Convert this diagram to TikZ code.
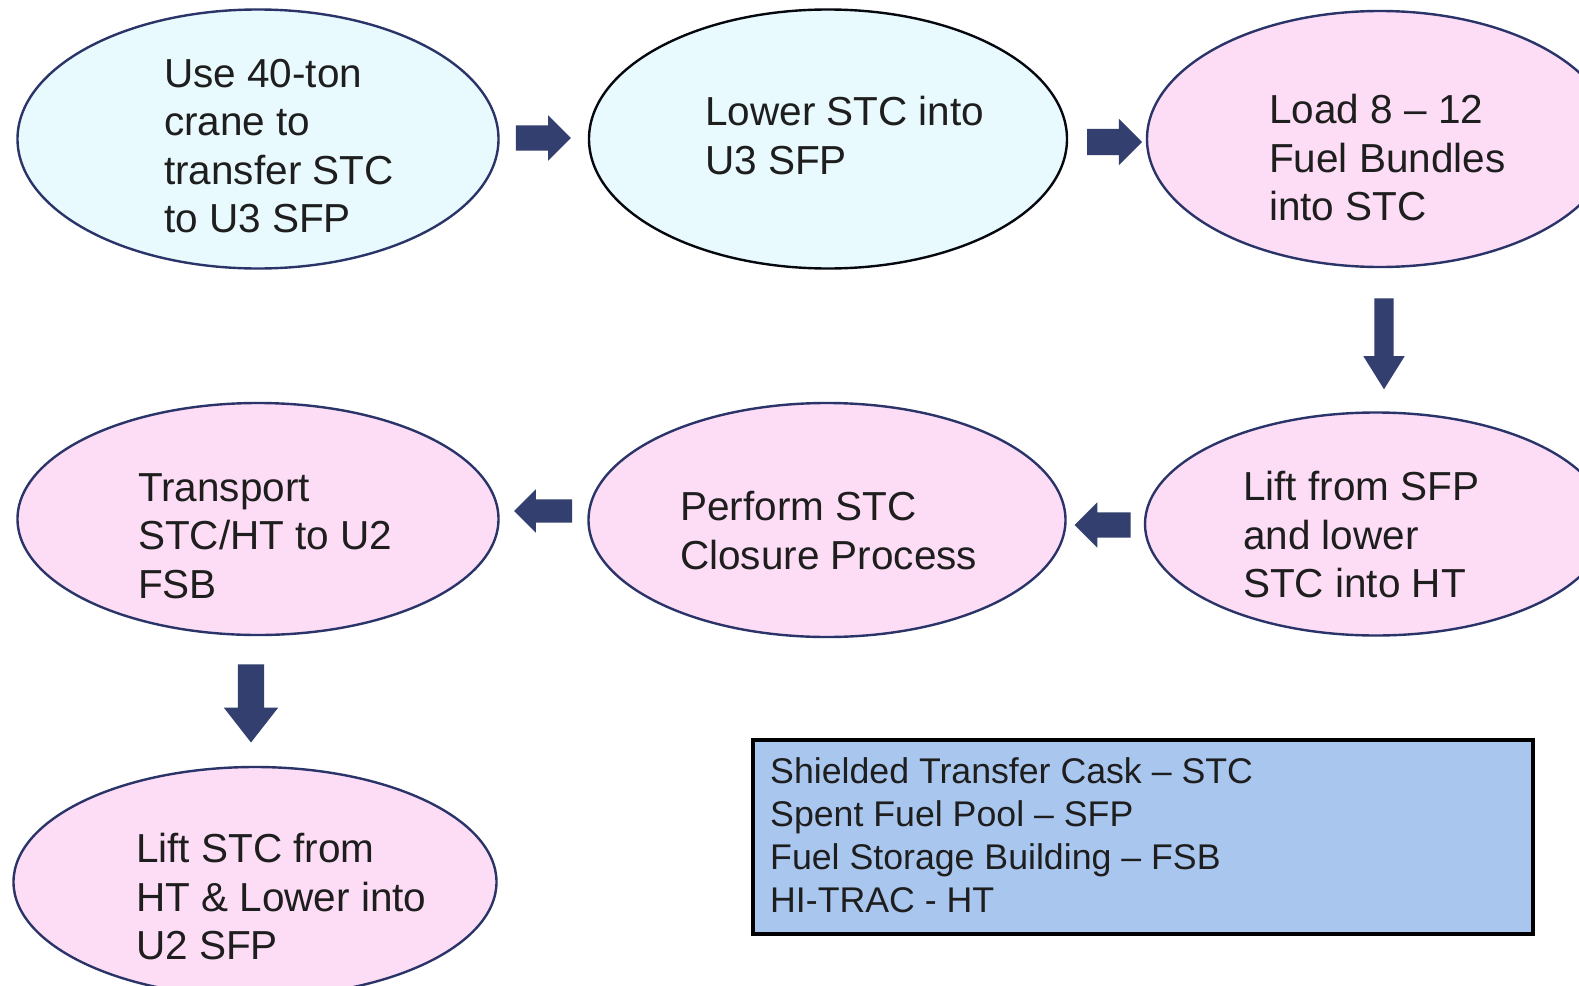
\documentclass[tikz,border=0pt]{standalone}
\usepackage{fontspec}
\setmainfont{Liberation Sans}
\usetikzlibrary{shapes.geometric,shapes.arrows}
\definecolor{cyanfill}{HTML}{E8FAFD}
\definecolor{pinkfill}{HTML}{FCDDF5}
\definecolor{navy}{HTML}{2A3468}
\definecolor{arrowblue}{HTML}{333F6E}
\definecolor{legendfill}{HTML}{A9C6EF}
\definecolor{txt}{HTML}{1E1E1E}
\tikzset{
  stepell/.style={ellipse,draw=navy,line width=2.4pt,inner sep=0pt},
  steptext/.style={anchor=north west,inner sep=0pt,align=left,text=txt,
    font=\fontsize{40.5}{48.5}\selectfont},
  blockarrow/.style={single arrow,fill=arrowblue,draw=none,inner xsep=0pt,
    single arrow head indent=0pt},
}
\begin{document}
\begin{tikzpicture}[x=1pt,y=-1pt]
\path[use as bounding box,fill=white] (0,0) rectangle (1579,985);
\clip (0,0) rectangle (1579,985);
% ellipses
\node[stepell,fill=cyanfill,minimum width=481pt,minimum height=259pt] (e1) at (258,139) {};
\node[stepell,fill=cyanfill,draw=black!85!navy,minimum width=478pt,minimum height=259pt] (e2) at (828,139) {};
\node[stepell,fill=pinkfill,minimum width=466pt,minimum height=256pt] (e3) at (1380,139) {};
\node[stepell,fill=pinkfill,minimum width=481pt,minimum height=232pt] (e4) at (258,519) {};
\node[stepell,fill=pinkfill,minimum width=477pt,minimum height=234pt] (e5) at (827,520) {};
\node[stepell,fill=pinkfill,minimum width=462pt,minimum height=223pt] (e6) at (1376,524) {};
\node[stepell,fill=pinkfill,minimum width=483pt,minimum height=230pt] (e7) at (255,882) {};
% texts
\node[steptext] (t1) at (164,59) {Use 40-ton\\crane to\\transfer STC\\to U3 SFP};
\node[steptext] (t2) at (705,96) {Lower STC into\\U3 SFP};
\node[steptext] (t3) at (1269,94) {Load 8 -- 12\\Fuel Bundles\\into STC};
\node[steptext] (t4) at (138,473) {Transport\\STC/HT to U2\\FSB};
\node[steptext] (t5) at (680,491) {Perform STC\\Closure Process};
\node[steptext] (t6) at (1243,471) {Lift from SFP\\and lower\\STC into HT};
\node[steptext] (t7) at (136,833) {Lift STC from\\HT \& Lower into\\U2 SFP};
% block arrows
\node[blockarrow,inner ysep=12.5pt,minimum height=55pt,single arrow head extend=10pt] (a1) at (537,138) {};
\node[blockarrow,inner ysep=13pt,minimum height=55pt,single arrow head extend=10pt] (a2) at (1108,142) {};
\node[blockarrow,rotate=-90,inner ysep=9.5pt,minimum height=91pt,single arrow head extend=11pt,single arrow tip angle=64] (a3) at (1384,336) {};
\node[blockarrow,rotate=180,inner ysep=12.5pt,minimum height=56pt,single arrow head extend=10pt] (a4) at (1109,525) {};
\node[blockarrow,rotate=180,inner ysep=11.5pt,minimum height=58pt,single arrow head extend=10pt] (a5) at (549,511) {};
\node[blockarrow,rotate=-90,inner ysep=13pt,minimum height=78pt,single arrow head extend=14pt,single arrow tip angle=76] (a6) at (251,695) {};
% legend
\node[draw=black,line width=4pt,fill=legendfill,minimum width=780pt,minimum height=194pt,anchor=north west,inner sep=0pt] (leg) at (751,738) {};
\node[anchor=north west,inner sep=0pt,align=left,text=txt,font=\fontsize{35.7}{43}\selectfont] (legtext) at (770,757)
  {Shielded Transfer Cask -- STC\\Spent Fuel Pool -- SFP\\Fuel Storage Building -- FSB\\HI-TRAC - HT};
\end{tikzpicture}
\end{document}
